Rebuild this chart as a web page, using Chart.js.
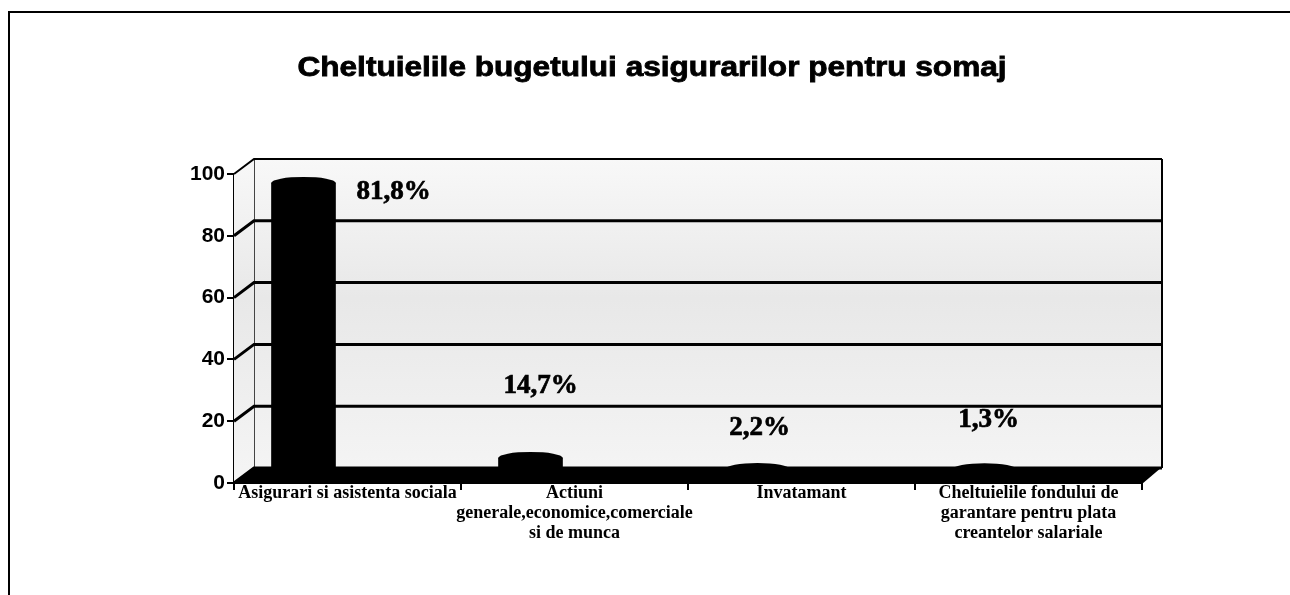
<!DOCTYPE html>
<html><head><meta charset="utf-8">
<script src="https://cdn.jsdelivr.net/npm/chart.js@4.4.0/dist/chart.umd.min.js"></script>
<style>html,body{margin:0;padding:0;background:#fff;}#wrap{width:1290px;height:595px;position:relative}</style>
</head><body><div id="wrap"><canvas id="c" width="1290" height="595"></canvas></div>
<script>
// ---- data ----
const chartTitle = "Cheltuielile bugetului asigurarilor pentru somaj";
const categories = [
  ["Asigurari si asistenta sociala"],
  ["Actiuni", "generale,economice,comerciale", "si de munca"],
  ["Invatamant"],
  ["Cheltuielile fondului de", "garantare pentru plata", "creantelor salariale"]
];
const barHeights = [94.7, 5.7, 2.1, 2.0];
const valueLabels = ["81,8%", "14,7%", "2,2%", "1,3%"];
const yTickValues = [0, 20, 40, 60, 80, 100];

// ---- style ----
const DEPTH = {dx: 20, dy: -15};
const BAR_SHIFT = {dx: -44, dy: -7.5};
const LABEL_OFFSETS = [[90, 9], [10, -72], [2, -41], [4, -49]];

const depthPlugin = {
  id: 'depth3d',
  beforeDraw(chart) {
    const ctx = chart.ctx;
    ctx.save();
    ctx.fillStyle = '#fff';
    ctx.fillRect(0, 0, chart.width, chart.height);
    ctx.strokeStyle = '#000';
    ctx.lineWidth = 2;
    ctx.beginPath();
    ctx.moveTo(9, chart.height); ctx.lineTo(9, 12); ctx.lineTo(chart.width, 12);
    ctx.stroke();
    // title (wide bold sans)
    ctx.fillStyle = '#000';
    ctx.font = 'bold 27px "Liberation Sans", Arial, sans-serif';
    ctx.textAlign = 'center';
    ctx.textBaseline = 'alphabetic';
    ctx.translate(652, 76);
    ctx.scale(1.17, 1);
    ctx.lineWidth = 0.8;
    ctx.fillText(chartTitle, 0, 0);
    ctx.strokeText(chartTitle, 0, 0);
    ctx.restore();
  },
  beforeDatasetsDraw(chart) {
    const ctx = chart.ctx, a = chart.chartArea, y = chart.scales.y;
    const L = a.left, R = a.right;
    const bT = y.getPixelForValue(100) + DEPTH.dy, bB = y.getPixelForValue(0) + DEPTH.dy;
    const bL = L + DEPTH.dx, bR = R + DEPTH.dx;
    ctx.save();
    const g = ctx.createLinearGradient(0, bT, 0, bB);
    g.addColorStop(0, '#f8f8f8');
    g.addColorStop(0.45, '#e8e8e8');
    g.addColorStop(1, '#f4f4f4');
    ctx.fillStyle = g;
    ctx.fillRect(bL, bT, bR - bL, bB - bT);
    // left wall
    ctx.beginPath();
    ctx.moveTo(L, y.getPixelForValue(100)); ctx.lineTo(bL, bT); ctx.lineTo(bL, bB); ctx.lineTo(L, y.getPixelForValue(0));
    ctx.closePath(); ctx.fill();
    // back-left edge
    ctx.strokeStyle = '#444'; ctx.lineWidth = 1;
    ctx.beginPath(); ctx.moveTo(bL + 0.5, bT); ctx.lineTo(bL + 0.5, bB); ctx.stroke();
    // gridlines
    ctx.strokeStyle = '#000';
    yTickValues.forEach(v => {
      const fy = y.getPixelForValue(v), by = fy + DEPTH.dy;
      ctx.lineWidth = (v === 100) ? 2 : 3;
      ctx.beginPath();
      ctx.moveTo(L, fy); ctx.lineTo(bL, by); ctx.lineTo(bR, by);
      ctx.stroke();
    });
    // right edge of back wall
    ctx.lineWidth = 2;
    ctx.beginPath(); ctx.moveTo(bR, bT); ctx.lineTo(bR, bB); ctx.stroke();
    // floor slab
    ctx.fillStyle = '#000';
    ctx.beginPath();
    ctx.moveTo(L, y.getPixelForValue(0) + 1); ctx.lineTo(bL, bB - 1); ctx.lineTo(bR, bB - 1); ctx.lineTo(R, y.getPixelForValue(0) + 1);
    ctx.closePath(); ctx.fill();
    ctx.restore();
    ctx.save();
    ctx.translate(BAR_SHIFT.dx, BAR_SHIFT.dy);
  },
  afterDatasetsDraw(chart) {
    const ctx = chart.ctx;
    const meta = chart.getDatasetMeta(0);
    ctx.fillStyle = '#000';
    meta.data.forEach(el => {
      const p = el.getProps(['x', 'y', 'width'], true);
      ctx.beginPath();
      ctx.ellipse(p.x, p.y, p.width / 2, 6, 0, 0, Math.PI * 2);
      ctx.fill();
    });
    ctx.restore();
    ctx.save();
    ctx.fillStyle = '#000';
    ctx.strokeStyle = '#000';
    ctx.lineWidth = 0.7;
    ctx.font = 'bold 27px "Liberation Serif", "Times New Roman", serif';
    ctx.textAlign = 'center';
    ctx.textBaseline = 'middle';
    meta.data.forEach((el, i) => {
      const p = el.getProps(['x', 'y'], true);
      const o = LABEL_OFFSETS[i];
      const tx = p.x + BAR_SHIFT.dx + o[0], ty = p.y + BAR_SHIFT.dy + o[1];
      ctx.fillText(valueLabels[i], tx, ty);
      ctx.strokeText(valueLabels[i], tx, ty);
    });
    ctx.restore();
  }
};

new Chart(document.getElementById('c'), {
  type: 'bar',
  data: {
    labels: categories,
    datasets: [{
      data: barHeights,
      backgroundColor: '#000',
      borderWidth: 0,
      barThickness: 64,
      clip: false
    }]
  },
  options: {
    responsive: false,
    animation: false,
    events: [],
    layout: {padding: {left: 0, right: 148, top: 174, bottom: 0}},
    plugins: {legend: {display: false}, title: {display: false}, tooltip: {enabled: false}},
    scales: {
      x: {
        afterFit(s) { s.height = 112; },
        border: {display: false},
        grid: {display: true, drawOnChartArea: false, drawTicks: true, tickLength: 7, color: '#000', lineWidth: 2, offset: true},
        ticks: {color: '#000', padding: -7, maxRotation: 0, autoSkip: false,
          font: {family: '"Liberation Serif", "Times New Roman", serif', size: 18, weight: 'bold', lineHeight: 20 / 18}}
      },
      y: {
        min: 0, max: 100,
        afterFit(s) { s.width = 234; },
        afterBuildTicks(s) { s.ticks = yTickValues.map(v => ({value: v})); },
        border: {display: true, color: '#000', width: 2},
        grid: {display: true, drawOnChartArea: false, drawTicks: true, tickLength: 7, color: '#000', lineWidth: 2},
        ticks: {color: '#000', padding: 2,
          font: {family: '"Liberation Sans", Arial, sans-serif', size: 21, weight: 'bold'}}
      }
    }
  },
  plugins: [depthPlugin]
});
</script>
</body></html>
